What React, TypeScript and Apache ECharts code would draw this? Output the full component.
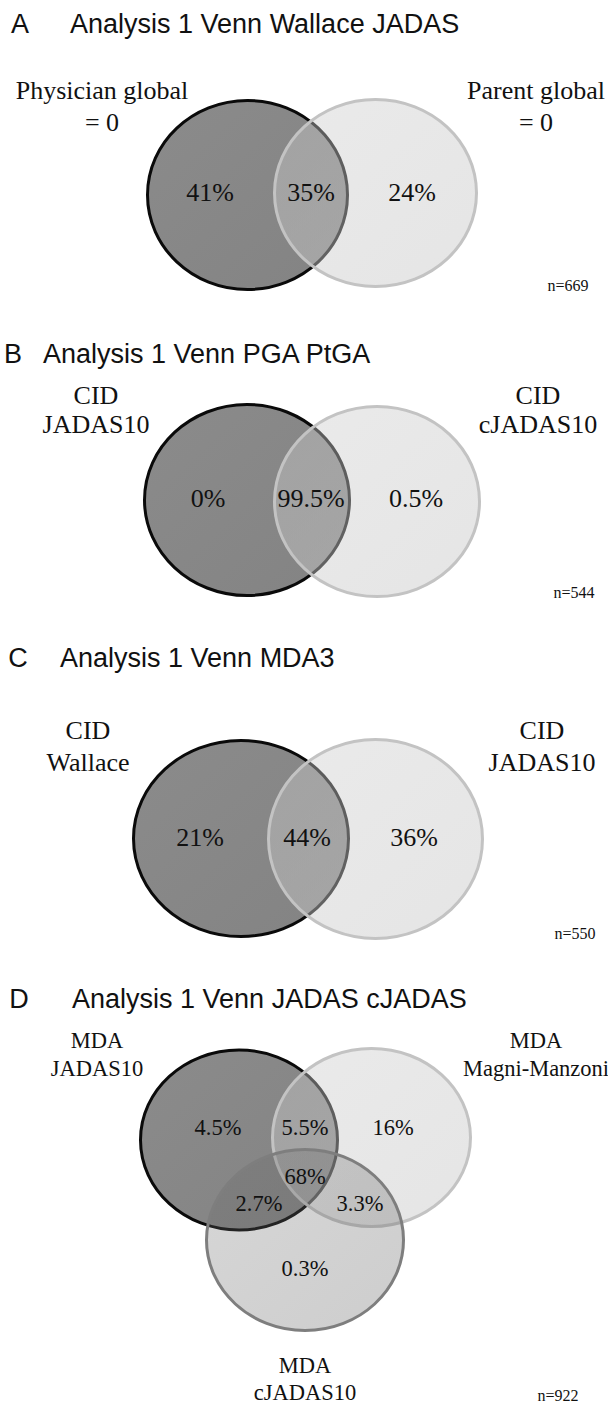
import React, { useEffect, useRef } from "react";
import * as echarts from "echarts";

// ---------- data ----------
const panelLetters = ["A", "B", "C", "D"];
const panelTitles = [
  "Analysis 1 Venn Wallace JADAS",
  "Analysis 1 Venn PGA PtGA",
  "Analysis 1 Venn MDA3",
  "Analysis 1 Venn JADAS cJADAS",
];

const setNamesA = ["Physician global\n= 0", "Parent global\n= 0"];
const regionLabelsA = ["41%", "35%", "24%"];
const sampleA = "n=669";

const setNamesB = ["CID\nJADAS10", "CID\ncJADAS10"];
const regionLabelsB = ["0%", "99.5%", "0.5%"];
const sampleB = "n=544";

const setNamesC = ["CID\nWallace", "CID\nJADAS10"];
const regionLabelsC = ["21%", "44%", "36%"];
const sampleC = "n=550";

const setNamesD = ["MDA\nJADAS10", "MDA\nMagni-Manzoni", "MDA\ncJADAS10"];
const regionLabelsD = ["4.5%", "5.5%", "16%", "68%", "2.7%", "3.3%", "0.3%"];
const sampleD = "n=922";

// ---------- layout (pixel space of the 608 x 1403 canvas) ----------
const W = 608;
const H = 1403;
const SERIF = "'Liberation Serif', 'Times New Roman', serif";
const SANS = "'Liberation Sans', Arial, sans-serif";
const INK = "#111111";

function grad(c0: string, c1: string) {
  return new echarts.graphic.LinearGradient(0, 0, 1, 1, [
    { offset: 0, color: c0 },
    { offset: 1, color: c1 },
  ]);
}

const CIRCLE_STYLES = [
  { fill: () => grad("#8b8b8b", "#838383"), stroke: "#0a0a0a" },
  { fill: () => grad("rgba(203,203,203,0.40)", "rgba(203,203,203,0.50)"), stroke: "#c3c3c3" },
  { fill: () => grad("rgba(100,100,100,0.26)", "rgba(100,100,100,0.32)"), stroke: "#7e7e7e" },
];

type PanelLayout = {
  letter: [number, number];
  titleX: number;
  circles: number[][]; // cx, cy, rx, ry
  names: number[][]; // x, y, lineHeight
  regions: number[][]; // x, y
  n: [number, number];
  font: number;
};

const layouts: PanelLayout[] = [
  {
    letter: [20, 24],
    titleX: 70,
    circles: [
      [247.5, 195, 101.5, 96],
      [375.5, 193, 102.5, 95],
    ],
    names: [
      [102, 106, 32],
      [536, 106, 32],
    ],
    regions: [
      [210, 192],
      [311, 192],
      [412, 192],
    ],
    n: [568, 285],
    font: 26,
  },
  {
    letter: [13, 354],
    titleX: 43,
    circles: [
      [247, 500, 104, 97],
      [377, 501.5, 104, 96.5],
    ],
    names: [
      [96, 410, 29],
      [538, 410, 29],
    ],
    regions: [
      [208, 498],
      [311, 498],
      [416, 498],
    ],
    n: [574, 592],
    font: 26,
  },
  {
    letter: [18, 657.5],
    titleX: 60,
    circles: [
      [241, 838.5, 109, 99.5],
      [375.5, 839, 108.5, 101],
    ],
    names: [
      [88, 746, 32],
      [542, 746, 32],
    ],
    regions: [
      [200, 837],
      [307, 837],
      [414, 837],
    ],
    n: [575, 933],
    font: 26,
  },
  {
    letter: [19, 998.5],
    titleX: 72,
    circles: [
      [239, 1140, 100, 91.5],
      [371.5, 1137.5, 100.5, 90.5],
      [305, 1240, 100, 92],
    ],
    names: [
      [97, 1054, 28],
      [536, 1054, 28],
      [305, 1378.5, 27],
    ],
    regions: [
      [218, 1127],
      [305, 1127],
      [393, 1127],
      [305, 1176],
      [259, 1203],
      [360, 1203],
      [305, 1268],
    ],
    n: [558, 1395],
    font: 22.5,
  },
];

const panelNames = [setNamesA, setNamesB, setNamesC, setNamesD];
const panelRegions = [regionLabelsA, regionLabelsB, regionLabelsC, regionLabelsD];
const panelSamples = [sampleA, sampleB, sampleC, sampleD];

type TextItem = {
  x: number;
  y: number;
  text: string;
  font: string;
  align: "left" | "center";
  lineHeight?: number;
};

function buildOption() {
  const circleData: number[][] = [];
  const texts: TextItem[] = [];

  layouts.forEach((lay, p) => {
    lay.circles.forEach((c, i) => circleData.push([c[0], c[1], c[2], c[3], i]));

    texts.push({ x: lay.letter[0], y: lay.letter[1], text: panelLetters[p], font: `27px ${SANS}`, align: "center" });
    texts.push({ x: lay.titleX, y: lay.letter[1], text: panelTitles[p], font: `27px ${SANS}`, align: "left" });

    panelNames[p].forEach((name, i) => {
      const pos = lay.names[i];
      texts.push({ x: pos[0], y: pos[1], text: name, font: `${lay.font}px ${SERIF}`, align: "center", lineHeight: pos[2] });
    });
    panelRegions[p].forEach((label, i) => {
      const pos = lay.regions[i];
      texts.push({ x: pos[0], y: pos[1], text: label, font: `${lay.font}px ${SERIF}`, align: "center" });
    });
    texts.push({ x: lay.n[0], y: lay.n[1], text: panelSamples[p], font: `16px ${SERIF}`, align: "center" });
  });

  const option: any = {
    animation: false,
    backgroundColor: "#ffffff",
    grid: { left: 0, right: 0, top: 0, bottom: 0, containLabel: false },
    xAxis: { type: "value", min: 0, max: W, show: false },
    yAxis: { type: "value", min: 0, max: H, inverse: true, show: false },
    series: [
      {
        type: "custom",
        coordinateSystem: "cartesian2d",
        silent: true,
        data: circleData,
        renderItem: (params: any, api: any) => {
          const c = api.coord([api.value(0), api.value(1)]);
          const s = api.size([api.value(2), api.value(3)]);
          const st = CIRCLE_STYLES[api.value(4)];
          return {
            type: "ellipse",
            shape: { cx: c[0], cy: c[1], rx: s[0] - 1.5, ry: s[1] - 1.5 },
            style: { fill: st.fill(), stroke: st.stroke, lineWidth: 3 },
          };
        },
      },
      {
        type: "custom",
        coordinateSystem: "cartesian2d",
        silent: true,
        data: texts.map((t) => [t.x, t.y]),
        renderItem: (params: any, api: any) => {
          const t = texts[params.dataIndex];
          const c = api.coord([api.value(0), api.value(1)]);
          return {
            type: "text",
            x: c[0],
            y: c[1],
            style: {
              text: t.text,
              font: t.font,
              fill: INK,
              align: t.align,
              verticalAlign: "middle",
              lineHeight: t.lineHeight,
            },
          };
        },
      },
    ],
  };
  return option;
}

export default function App() {
  const ref = useRef<HTMLDivElement>(null);
  useEffect(() => {
    document.body.style.margin = "0";
    if (!ref.current) return;
    const chart = echarts.init(ref.current, undefined, { renderer: "svg" });
    chart.setOption(buildOption());
    return () => chart.dispose();
  }, []);
  return <div ref={ref} style={{ width: W, height: H }} />;
}
